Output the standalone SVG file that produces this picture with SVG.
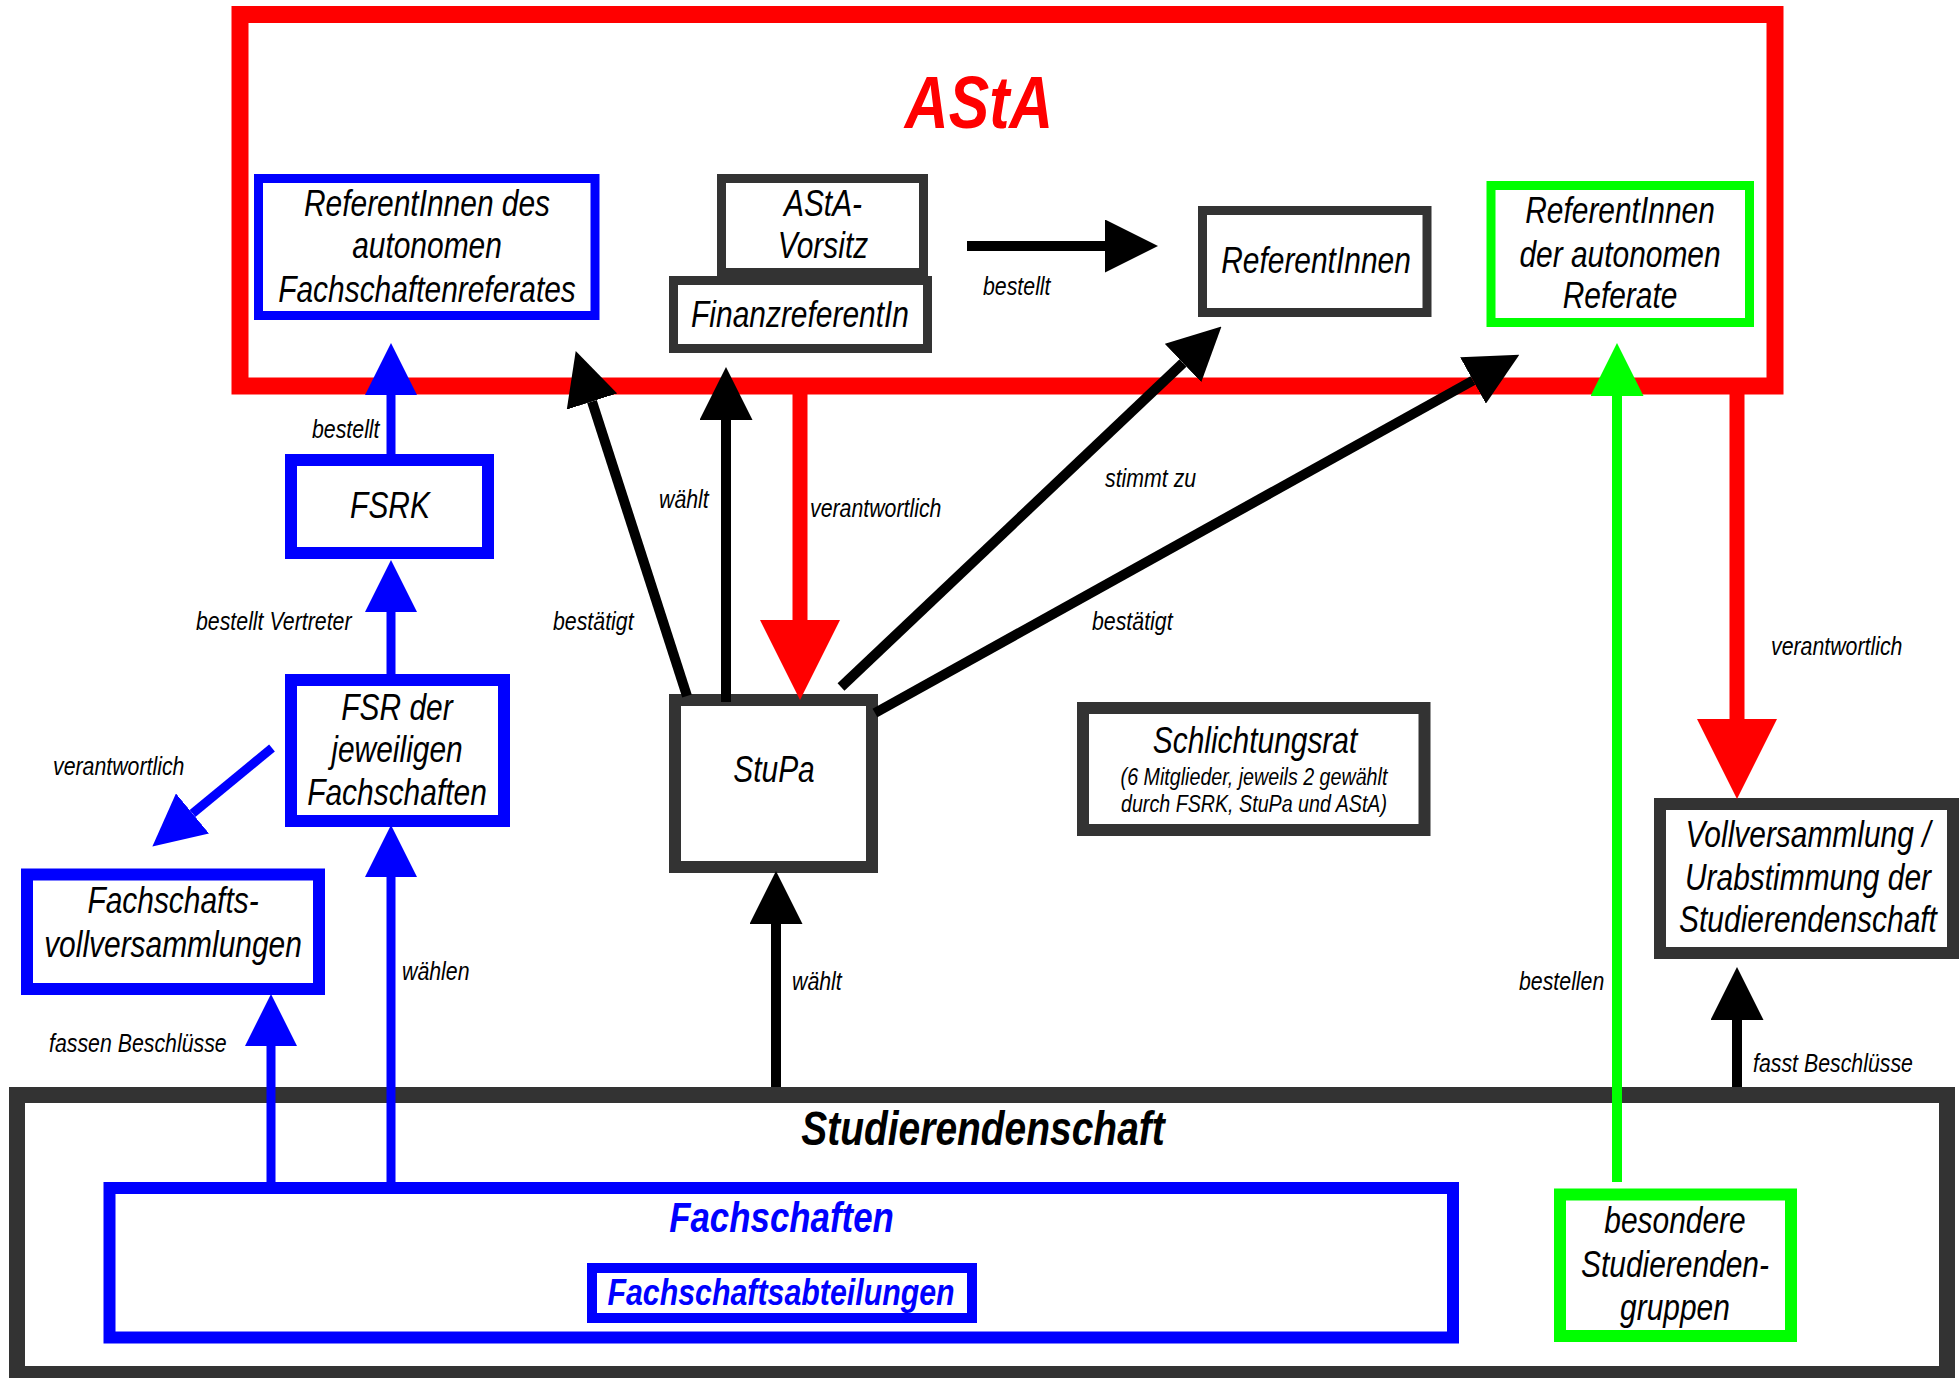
<svg xmlns="http://www.w3.org/2000/svg" width="1959" height="1378" viewBox="0 0 1959 1378">
<style>
  .box { fill: #ffffff; }
  text { font-family: "Liberation Sans", Arial, sans-serif; font-style: italic; }
  .t { font-size: 36.5px; fill: #000; text-anchor: middle; }
  .lbl { font-size: 26px; fill: #000; }
  .small { font-size: 24px; fill: #000; text-anchor: middle; }
  .bold { font-weight: bold; text-anchor: middle; }
  .cb { stroke: #000; stroke-width: 10; fill: none; }
  .cbl { stroke: #0000ff; stroke-width: 9; fill: none; }
  .cr { stroke: #ff0000; stroke-width: 15; fill: none; }
  .cg { stroke: #00ff00; stroke-width: 10; fill: none; }
</style>
<defs>
  <marker id="mBlack" markerUnits="userSpaceOnUse" markerWidth="53" markerHeight="53" viewBox="0 -26.5 53 53" refX="0" refY="0" orient="auto">
    <path d="M0,-26.5 L53,0 L0,26.5 Z" fill="#000"/>
  </marker>
  <marker id="mBlue" markerUnits="userSpaceOnUse" markerWidth="52" markerHeight="52" viewBox="0 -26 52 52" refX="0" refY="0" orient="auto">
    <path d="M0,-26 L52,0 L0,26 Z" fill="#0000ff"/>
  </marker>
  <marker id="mRed" markerUnits="userSpaceOnUse" markerWidth="80" markerHeight="80" viewBox="0 -40 80 80" refX="0" refY="0" orient="auto">
    <path d="M0,-40 L80,0 L0,40 Z" fill="#ff0000"/>
  </marker>
  <marker id="mGreen" markerUnits="userSpaceOnUse" markerWidth="53" markerHeight="53" viewBox="0 -26.5 53 53" refX="0" refY="0" orient="auto">
    <path d="M0,-26.5 L53,0 L0,26.5 Z" fill="#00ff00"/>
  </marker>
</defs>
<rect x="0" y="0" width="1959" height="1378" fill="#ffffff"/>

<g id="asta">
  <rect x="240" y="14.5" width="1535" height="371.5" fill="#fff" stroke="#ff0000" stroke-width="17"/>
  <text class="bold" transform="translate(979 128) scale(0.82 1)" font-size="74" fill="#ff0000">AStA</text>
</g>
<g id="referentinnen-fachschaftenreferat">
  <rect x="258.5" y="178.5" width="336.5" height="137" class="box" stroke="#0000ff" stroke-width="9"/>
  <text class="t" transform="translate(427 216) scale(0.82 1)">ReferentInnen des</text>
  <text class="t" transform="translate(427 258) scale(0.82 1)">autonomen</text>
  <text class="t" transform="translate(427 302) scale(0.82 1)">Fachschaftenreferates</text>
</g>
<g id="asta-vorsitz">
  <rect x="721.5" y="178.5" width="202" height="94" class="box" stroke="#333333" stroke-width="9"/>
  <text class="t" transform="translate(823 216) scale(0.82 1)">AStA-</text>
  <text class="t" transform="translate(823 258) scale(0.82 1)">Vorsitz</text>
</g>
<g id="finanzreferentin">
  <rect x="673.5" y="280.5" width="254" height="68" class="box" stroke="#333333" stroke-width="9"/>
  <text class="t" transform="translate(800 327) scale(0.82 1)">FinanzreferentIn</text>
</g>
<g id="referentinnen">
  <rect x="1202.5" y="210.5" width="224.5" height="102" class="box" stroke="#333333" stroke-width="9"/>
  <text class="t" transform="translate(1316 273) scale(0.82 1)">ReferentInnen</text>
</g>
<g id="referentinnen-autonome-referate">
  <rect x="1491" y="185.5" width="258.5" height="137" class="box" stroke="#00ff00" stroke-width="9"/>
  <text class="t" transform="translate(1620 223) scale(0.82 1)">ReferentInnen</text>
  <text class="t" transform="translate(1620 267) scale(0.82 1)">der autonomen</text>
  <text class="t" transform="translate(1620 308) scale(0.82 1)">Referate</text>
</g>
<g id="fsrk">
  <rect x="291" y="460" width="197" height="93" class="box" stroke="#0000ff" stroke-width="12"/>
  <text class="t" transform="translate(390 518) scale(0.82 1)">FSRK</text>
</g>
<g id="fsr">
  <rect x="291" y="680" width="213" height="141" class="box" stroke="#0000ff" stroke-width="12"/>
  <text class="t" transform="translate(397 720) scale(0.82 1)">FSR der</text>
  <text class="t" transform="translate(397 762) scale(0.82 1)">jeweiligen</text>
  <text class="t" transform="translate(397 805) scale(0.82 1)">Fachschaften</text>
</g>
<g id="fachschaftsvollversammlungen">
  <rect x="27" y="874.5" width="292" height="114.5" class="box" stroke="#0000ff" stroke-width="12"/>
  <text class="t" transform="translate(173 913) scale(0.82 1)">Fachschafts-</text>
  <text class="t" transform="translate(173 957) scale(0.82 1)">vollversammlungen</text>
</g>
<g id="stupa">
  <rect x="675" y="700" width="197" height="167" class="box" stroke="#333333" stroke-width="12"/>
  <text class="t" transform="translate(774 782) scale(0.82 1)">StuPa</text>
</g>
<g id="schlichtungsrat">
  <rect x="1083" y="708" width="341.5" height="122" class="box" stroke="#333333" stroke-width="12"/>
  <text class="t" transform="translate(1255 753) scale(0.82 1)">Schlichtungsrat</text>
  <text class="small" transform="translate(1254 785) scale(0.82 1)">(6 Mitglieder, jeweils 2 gewählt</text>
  <text class="small" transform="translate(1254 812) scale(0.82 1)">durch FSRK, StuPa und AStA)</text>
</g>
<g id="vollversammlung">
  <rect x="1660" y="804" width="293" height="149" class="box" stroke="#333333" stroke-width="12"/>
  <text class="t" transform="translate(1808 847) scale(0.82 1)">Vollversammlung /</text>
  <text class="t" transform="translate(1808 890) scale(0.82 1)">Urabstimmung der</text>
  <text class="t" transform="translate(1808 932) scale(0.82 1)">Studierendenschaft</text>
</g>
<g id="studierendenschaft">
  <rect x="17" y="1095" width="1930" height="279" class="box" stroke="#333333" stroke-width="16"/>
  <text class="bold" transform="translate(983 1145) scale(0.82 1)" font-size="47.5" fill="#000">Studierendenschaft</text>
</g>
<g id="fachschaften">
  <rect x="109.5" y="1188" width="1343.5" height="149.5" class="box" stroke="#0000ff" stroke-width="12"/>
  <text class="bold" transform="translate(781.5 1232) scale(0.82 1)" font-size="42.5" fill="#0000ff">Fachschaften</text>
</g>
<g id="fachschaftsabteilungen">
  <rect x="592" y="1268" width="380" height="50" class="box" stroke="#0000ff" stroke-width="10"/>
  <text class="bold" transform="translate(781 1305) scale(0.82 1)" font-size="37" fill="#0000ff">Fachschaftsabteilungen</text>
</g>
<g id="besondere-studierendengruppen">
  <rect x="1560" y="1194.5" width="231" height="141.5" class="box" stroke="#00ff00" stroke-width="12"/>
  <text class="t" transform="translate(1675 1233) scale(0.82 1)">besondere</text>
  <text class="t" transform="translate(1675 1277) scale(0.82 1)">Studierenden-</text>
  <text class="t" transform="translate(1675 1320) scale(0.82 1)">gruppen</text>
</g>

<g id="connectors">
  <line class="cbl" x1="391" y1="454" x2="391" y2="395" marker-end="url(#mBlue)"/>
  <line class="cbl" x1="391" y1="674" x2="391" y2="612" marker-end="url(#mBlue)"/>
  <line class="cbl" x1="391" y1="1188" x2="391" y2="877" marker-end="url(#mBlue)"/>
  <line class="cbl" x1="271" y1="1188" x2="271" y2="1046" marker-end="url(#mBlue)"/>
  <line class="cbl" stroke-width="10" x1="272" y1="748" x2="192.5" y2="813.5" marker-end="url(#mBlue)"/>
  <line class="cb" x1="687" y1="696" x2="592" y2="401.5" marker-end="url(#mBlack)"/>
  <line class="cb" x1="726" y1="702" x2="726" y2="420" marker-end="url(#mBlack)"/>
  <line class="cr" x1="800" y1="386" x2="800" y2="620" marker-end="url(#mRed)"/>
  <line class="cb" x1="841" y1="687" x2="1183" y2="363" marker-end="url(#mBlack)"/>
  <line class="cb" x1="875" y1="713" x2="1473" y2="380.5" marker-end="url(#mBlack)"/>
  <line class="cb" x1="967" y1="246" x2="1105" y2="246" marker-end="url(#mBlack)"/>
  <line class="cg" x1="1617" y1="1182" x2="1617" y2="396" marker-end="url(#mGreen)"/>
  <line class="cr" x1="1737" y1="386" x2="1737" y2="719" marker-end="url(#mRed)"/>
  <line class="cb" x1="1737" y1="1087" x2="1737" y2="1020" marker-end="url(#mBlack)"/>
  <line class="cb" x1="776" y1="1087" x2="776" y2="924" marker-end="url(#mBlack)"/>

  <text class="lbl" transform="translate(983 295) scale(0.82 1)">bestellt</text>
  <text class="lbl" transform="translate(312 438) scale(0.82 1)">bestellt</text>
  <text class="lbl" transform="translate(196 630) scale(0.82 1)">bestellt Vertreter</text>
  <text class="lbl" transform="translate(53 775) scale(0.82 1)">verantwortlich</text>
  <text class="lbl" transform="translate(553 630) scale(0.82 1)">bestätigt</text>
  <text class="lbl" transform="translate(659 508) scale(0.82 1)">wählt</text>
  <text class="lbl" transform="translate(810 517) scale(0.82 1)">verantwortlich</text>
  <text class="lbl" transform="translate(1105 487) scale(0.82 1)">stimmt zu</text>
  <text class="lbl" transform="translate(1092 630) scale(0.82 1)">bestätigt</text>
  <text class="lbl" transform="translate(1771 655) scale(0.82 1)">verantwortlich</text>
  <text class="lbl" transform="translate(402 980) scale(0.82 1)">wählen</text>
  <text class="lbl" transform="translate(49 1052) scale(0.82 1)">fassen Beschlüsse</text>
  <text class="lbl" transform="translate(792 990) scale(0.82 1)">wählt</text>
  <text class="lbl" transform="translate(1519 990) scale(0.82 1)">bestellen</text>
  <text class="lbl" transform="translate(1753 1072) scale(0.82 1)">fasst Beschlüsse</text>
</g>
</svg>
